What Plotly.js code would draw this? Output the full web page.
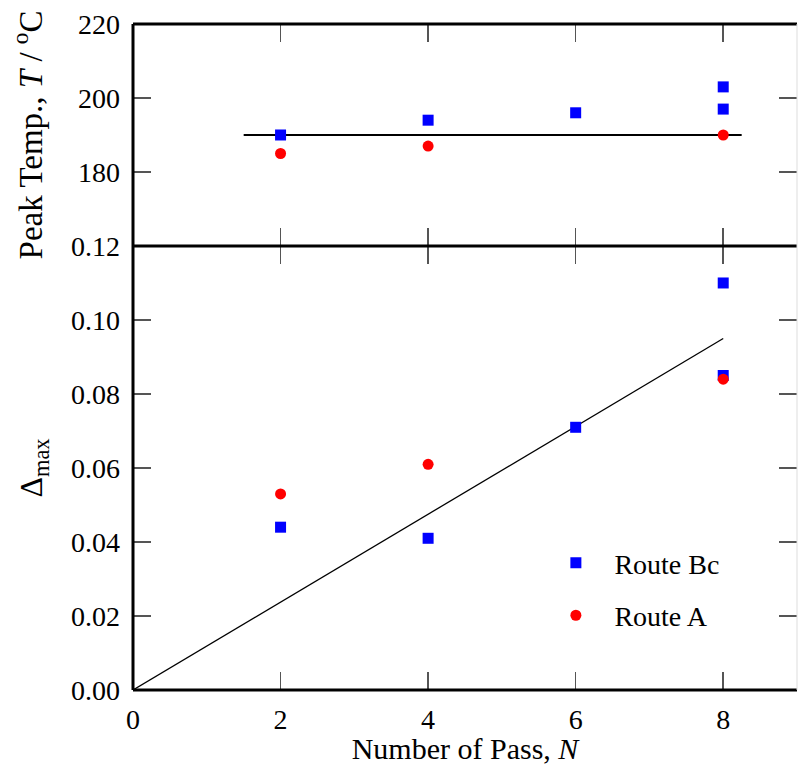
<!DOCTYPE html>
<html>
<head>
<meta charset="utf-8">
<script src="https://cdn.plot.ly/plotly-3.0.1.min.js"></script>
<style>html,body{margin:0;padding:0;background:#fff;}#chart{width:798px;height:765px;}</style>
</head>
<body>
<div id="chart"></div>
<script>
// ---- data ----
const passBc = [2, 4, 6, 8, 8];
const tempBc = [190, 194, 196, 203, 197];
const deltaBc = [0.044, 0.041, 0.071, 0.110, 0.085];
const passA = [2, 4, 8];
const tempA = [185, 187, 190];
const deltaA = [0.053, 0.061, 0.084];
const tempFitX = [1.5, 8.25];
const tempFitY = [190, 190];
const deltaFitX = [0, 8];
const deltaFitY = [0, 0.095];
const xTicks = [0, 2, 4, 6, 8];
const tempTicks = [180, 200, 220];
const deltaTicks = [0, 0.02, 0.04, 0.06, 0.08, 0.10, 0.12];
const deltaTickText = ['0.00', '0.02', '0.04', '0.06', '0.08', '0.10', '0.12'];

const FONT = 'Liberation Serif, Times New Roman, serif';
const blue = '#0000ff', red = '#ff0000';

const traces = [
  {x: tempFitX, y: tempFitY, xaxis: 'x2', yaxis: 'y2', mode: 'lines',
   line: {color: '#000', width: 2}, showlegend: false, hoverinfo: 'skip'},
  {x: passBc, y: tempBc, xaxis: 'x2', yaxis: 'y2', mode: 'markers',
   marker: {symbol: 'square', size: 11, color: blue}, showlegend: false},
  {x: passA, y: tempA, xaxis: 'x2', yaxis: 'y2', mode: 'markers',
   marker: {symbol: 'circle', size: 11, color: red}, showlegend: false},
  {x: deltaFitX, y: deltaFitY, xaxis: 'x', yaxis: 'y', mode: 'lines',
   line: {color: '#000', width: 1.3}, showlegend: false, hoverinfo: 'skip'},
  {x: passBc, y: deltaBc, xaxis: 'x', yaxis: 'y', mode: 'markers', name: 'Route Bc',
   legendgroup: 'bc', marker: {symbol: 'square', size: 11, color: blue}},
  {x: passA, y: deltaA, xaxis: 'x', yaxis: 'y', mode: 'markers', name: 'Route A',
   legendgroup: 'a', marker: {symbol: 'circle', size: 11, color: red}}
];

const tickCommon = {
  ticks: 'inside', ticklen: 18, tickwidth: 1.5, tickcolor: '#555',
  mirror: 'ticks', showline: false, showgrid: false, zeroline: false,
  tickfont: {family: FONT, size: 28, color: '#000'}
};

const split = 0.6667;
const layout = {
  width: 798, height: 765,
  margin: {l: 133, r: 1, t: 24, b: 75},
  paper_bgcolor: '#fff', plot_bgcolor: '#fff',
  font: {family: FONT, color: '#000'},
  xaxis: Object.assign({}, tickCommon, {
    domain: [0, 1], range: [0, 9], tickvals: xTicks, anchor: 'y',
    ticklabelstandoff: 10,
    title: {text: 'Number of Pass, <i>N</i>', font: {family: FONT, size: 30}, standoff: 4}
  }),
  yaxis: Object.assign({}, tickCommon, {
    domain: [0, split], range: [0, 0.12], tickvals: deltaTicks, ticktext: deltaTickText,
    anchor: 'x', ticklabelstandoff: 12,
    title: {text: 'Δ<sub>max</sub>', font: {family: FONT, size: 32}, standoff: 18}
  }),
  xaxis2: Object.assign({}, tickCommon, {
    domain: [0, 1], range: [0, 9], tickvals: xTicks, anchor: 'y2', showticklabels: false
  }),
  yaxis2: Object.assign({}, tickCommon, {
    domain: [split, 1], range: [160, 220], tickvals: tempTicks, anchor: 'x2',
    ticklabelstandoff: 12,
    title: {text: 'Peak Temp., <i>T</i> / <sup>o</sup>C', font: {family: FONT, size: 33}, standoff: 25}
  }),
  legend: {
    x: 0.609, y: 0.228, xanchor: 'left', yanchor: 'top',
    bgcolor: 'rgba(0,0,0,0)', borderwidth: 0,
    font: {family: FONT, size: 28, color: '#000'},
    tracegroupgap: 13, itemwidth: 67
  },
  shapes: [
    {type: 'line', xref: 'paper', yref: 'paper', x0: 0, x1: 0, y0: 0, y1: 1, line: {color: '#000', width: 3}},
    {type: 'line', xref: 'paper', yref: 'paper', x0: 0, x1: 1, y0: 0, y1: 0, line: {color: '#000', width: 3}},
    {type: 'line', xref: 'paper', yref: 'paper', x0: 0, x1: 1, y0: split, y1: split, line: {color: '#000', width: 3}},
    {type: 'line', xref: 'paper', yref: 'paper', x0: 0, x1: 1, y0: 1, y1: 1, line: {color: '#000', width: 3}},
    {type: 'line', xref: 'paper', yref: 'paper', x0: 1, x1: 1, y0: 0, y1: 1, line: {color: '#ddd', width: 1}}
  ]
};

Plotly.newPlot('chart', traces, layout, {displayModeBar: false, staticPlot: true});
</script>
</body>
</html>
